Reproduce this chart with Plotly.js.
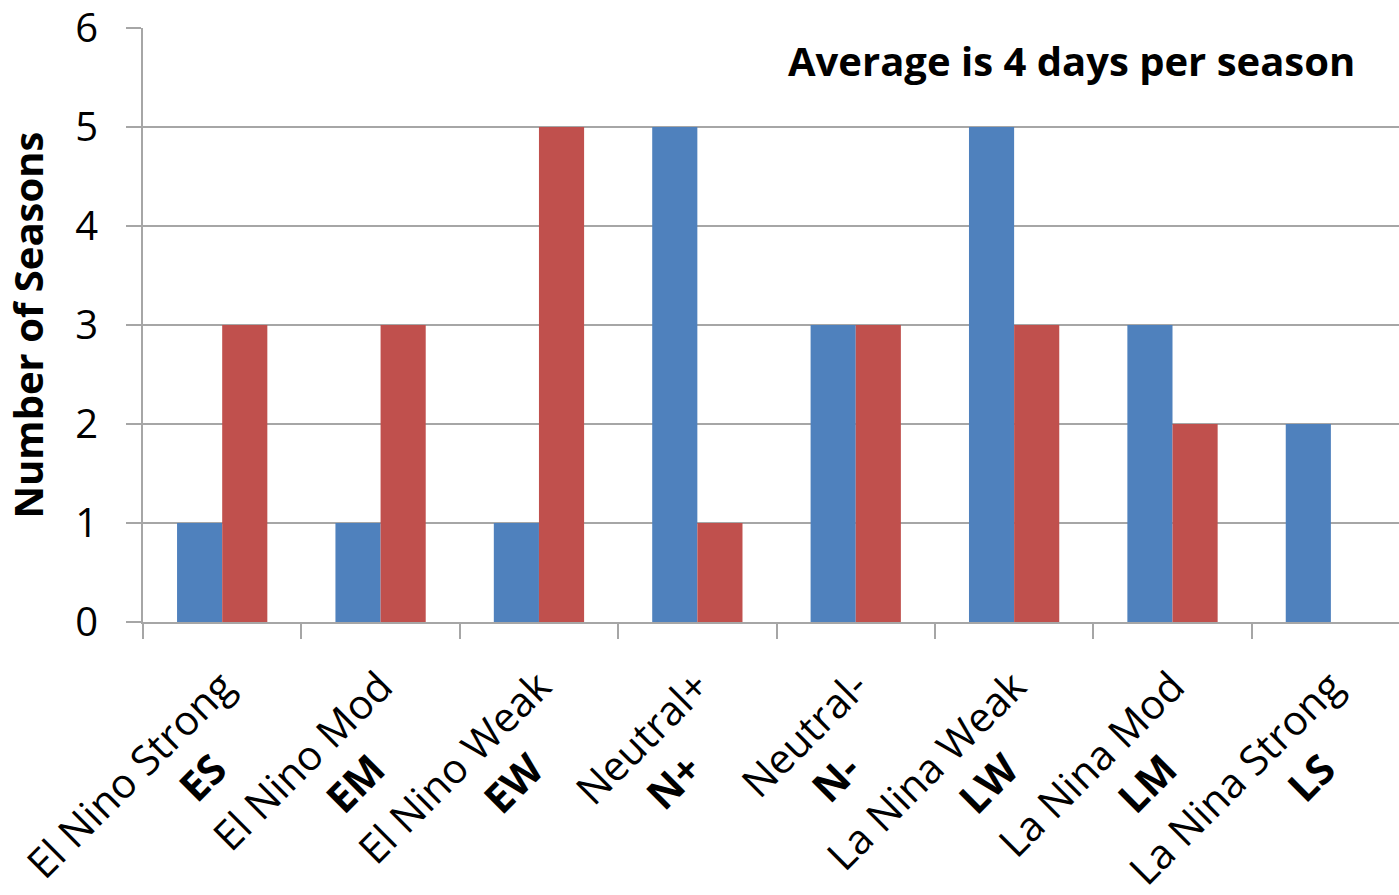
<!DOCTYPE html>
<html>
<head>
<meta charset="utf-8">
<script src="https://cdn.plot.ly/plotly-3.0.1.min.js"></script>
<style>html,body{margin:0;padding:0;background:#fff;}#chart{width:1399px;height:895px;}</style>
</head>
<body>
<div id="chart"></div>
<script>
const categoryNames = ["El Nino Strong", "El Nino Mod", "El Nino Weak", "Neutral+", "Neutral-", "La Nina Weak", "La Nina Mod", "La Nina Strong"];
const categoryCodes = ["ES", "EM", "EW", "N+", "N-", "LW", "LM", "LS"];
const seriesA = [1, 1, 1, 5, 3, 5, 3, 2];
const seriesB = [3, 3, 5, 1, 3, 3, 2, 0];
const yTicks = [0, 1, 2, 3, 4, 5, 6];

const pad = "\u00A0\u00A0\u00A0\u00A0\u00A0\u00A0";
const tickText = categoryNames.map((n, i) => n + "<br><b>" + categoryCodes[i] + "</b>" + pad);

const font = "'Open Sans', sans-serif";
const data = [
  {type: "bar", x: categoryNames, y: seriesA, marker: {color: "#4F81BD"}, hoverinfo: "y"},
  {type: "bar", x: categoryNames, y: seriesB, marker: {color: "#C0504D"}, hoverinfo: "y"}
];
const layout = {
  width: 1399, height: 895,
  margin: {l: 143, r: 0, t: 28, b: 273},
  paper_bgcolor: "#fff", plot_bgcolor: "#fff",
  showlegend: false,
  barmode: "group", bargap: 0.43, bargroupgap: 0,
  font: {family: font, color: "#000"},
  xaxis: {
    type: "category",
    range: [-0.5, 7.43],
    tickmode: "array", tickvals: categoryNames, ticktext: tickText,
    tickangle: -45,
    tickfont: {size: 41, family: font},
    ticklabelstandoff: 22,
    ticklabeloverflow: "allow",
    showgrid: false, zeroline: false,
    showline: true, linecolor: "#A6A6A6", linewidth: 2,
    ticks: "outside", ticklen: 15, tickcolor: "#A6A6A6", tickwidth: 2,
    tickson: "boundaries",
    fixedrange: true
  },
  yaxis: {
    range: [0, 6],
    tickmode: "array", tickvals: yTicks,
    tickfont: {size: 40, family: font},
    ticklabelstandoff: 20,
    ticklabeloverflow: "allow",
    showgrid: true, gridcolor: "#A6A6A6", gridwidth: 2,
    zeroline: false,
    showline: true, linecolor: "#A6A6A6", linewidth: 2,
    ticks: "outside", ticklen: 15, tickcolor: "#A6A6A6", tickwidth: 2,
    title: {text: "<b>Number of Seasons</b>", font: {size: 40, family: font}, standoff: 22},
    fixedrange: true
  },
  annotations: [{
    xref: "paper", yref: "paper", x: 0.9666, y: 0.946,
    xanchor: "right", yanchor: "middle", showarrow: false,
    text: "<b>Average is 4 days per season</b>",
    font: {size: 40, family: font, color: "#000"}
  }]
};
Plotly.newPlot("chart", data, layout, {displayModeBar: false, staticPlot: true});
</script>
</body>
</html>
